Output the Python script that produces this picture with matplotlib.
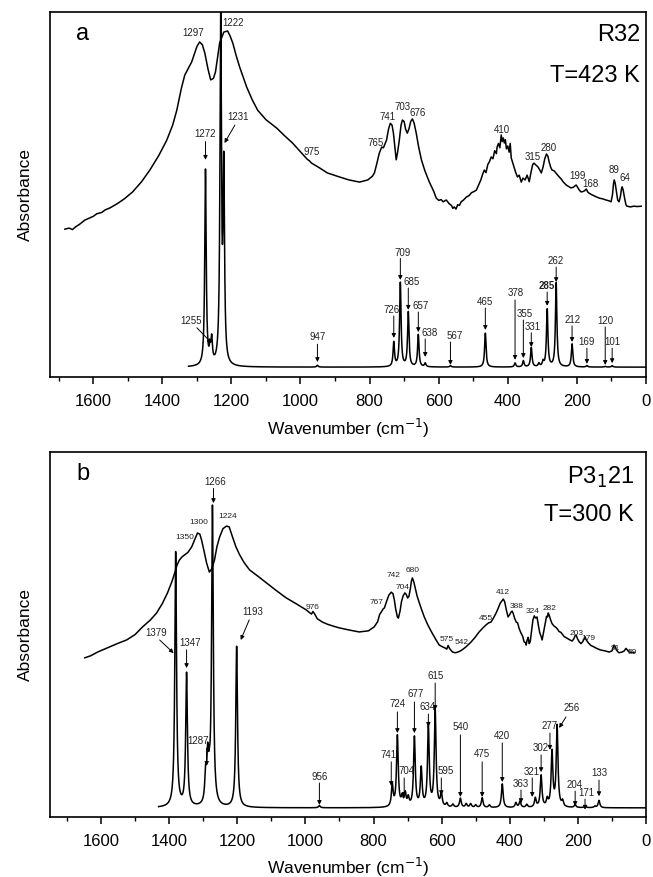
import numpy as np
import matplotlib
matplotlib.use("Agg")
import matplotlib.pyplot as plt
from matplotlib.ticker import MultipleLocator

plt.rcParams["font.family"] = ["Liberation Sans", "DejaVu Sans"]

# ── data: panel a (R32, 423 K) ───────────────────────────────────────────────
exp_a_wn = [1682, 1670, 1660, 1650, 1640, 1624, 1610, 1600, 1590, 1575, 1565, 1552,
            1530, 1510, 1486, 1460, 1436, 1410, 1387, 1370, 1358, 1345, 1335, 1315,
            1300, 1292, 1284, 1277, 1268, 1260, 1252, 1246, 1240, 1234, 1222, 1211,
            1204, 1196, 1186, 1176, 1156, 1140, 1124, 1100, 1069, 1045, 1023, 1000,
            980, 975, 968, 945, 922, 900, 887, 860, 829, 805, 792, 786, 779, 772,
            765, 760, 751, 745, 740, 735, 731, 727, 723, 719, 714, 709, 705, 700,
            696, 691, 686, 681, 676, 671, 665, 658, 650, 640, 627, 615, 607, 600,
            593, 587, 578, 570, 563, 559, 555, 550, 545, 540, 535, 528, 520, 512,
            505, 498, 491, 485, 478, 473, 468, 463, 458, 453, 448, 443, 438, 433,
            431, 427, 423, 419, 416, 413, 410, 407, 404, 400, 396, 393, 390, 386,
            382, 377, 372, 367, 361, 356, 350, 344, 338, 333, 328, 324, 318, 313,
            308, 303, 298, 293, 288, 284, 280, 276, 272, 266, 260, 251, 245, 240,
            231, 224, 217, 210, 205, 202, 198, 193, 188, 183, 178, 173, 168, 162,
            156, 145, 135, 125, 116, 108, 101, 97, 94, 92, 89, 85, 82, 78, 74, 71,
            69, 66, 62, 58, 55, 45, 35, 25, 14]
exp_a_abs = [0.405, 0.408, 0.404, 0.412, 0.418, 0.430, 0.436, 0.440, 0.447, 0.451, 0.458, 0.463,
             0.475, 0.488, 0.507, 0.535, 0.567, 0.607, 0.649, 0.690, 0.731, 0.790, 0.827, 0.863,
             0.905, 0.918, 0.910, 0.888, 0.845, 0.814, 0.818, 0.836, 0.875, 0.915, 0.945, 0.948,
             0.935, 0.915, 0.880, 0.849, 0.795, 0.760, 0.731, 0.705, 0.682, 0.660, 0.641, 0.617,
             0.596, 0.593, 0.586, 0.573, 0.559, 0.552, 0.548, 0.540, 0.534, 0.540, 0.550, 0.559, 0.585, 0.613,
             0.630, 0.628, 0.649, 0.680, 0.695, 0.690, 0.668, 0.630, 0.595, 0.615, 0.649, 0.690, 0.704, 0.700,
             0.680, 0.668, 0.680, 0.700, 0.707, 0.695, 0.668, 0.630, 0.595, 0.565, 0.534, 0.510, 0.490, 0.484,
             0.486, 0.480, 0.485, 0.475, 0.470, 0.462, 0.466, 0.460, 0.472, 0.470, 0.480, 0.485, 0.493, 0.497,
             0.505, 0.508, 0.512, 0.525, 0.540, 0.555, 0.567, 0.560, 0.582, 0.590, 0.603, 0.598, 0.620, 0.612,
             0.630, 0.640, 0.628, 0.663, 0.645, 0.655, 0.641, 0.650, 0.625, 0.633, 0.616, 0.640, 0.600, 0.588,
             0.575, 0.560, 0.548, 0.553, 0.534, 0.545, 0.540, 0.553, 0.535, 0.560, 0.582, 0.586, 0.580, 0.576,
             0.568, 0.559, 0.575, 0.598, 0.611, 0.605, 0.588, 0.575, 0.567, 0.565, 0.558, 0.548, 0.542, 0.535,
             0.526, 0.522, 0.518, 0.520, 0.524, 0.526, 0.520, 0.512, 0.507, 0.508, 0.510, 0.515, 0.506, 0.502,
             0.499, 0.494, 0.490, 0.488, 0.485, 0.483, 0.480, 0.500, 0.530, 0.540, 0.530, 0.505, 0.485, 0.480, 0.495, 0.515,
             0.521, 0.512, 0.490, 0.472, 0.468, 0.466, 0.468, 0.467, 0.468]

calc_a_pos = [1275, 1262, 1257, 1231, 1222, 951, 730, 711, 688, 659, 639, 566, 465,
              379, 355, 332, 310, 298, 286, 260, 214, 171, 118, 98]
calc_a_h = [0.564, 0.060, 0.090, 0.965, 0.550, 0.032, 0.093, 0.257, 0.176, 0.115, 0.037, 0.031, 0.120,
            0.038, 0.044, 0.080, 0.036, 0.040, 0.184, 0.257, 0.090, 0.031, 0.029, 0.031]
calc_a_base = 0.027
calc_a_range = (1324, 2)

exp_a_labels = [("1297", 1312, 0.942), ("1222", 1194, 0.970), ("975", 968, 0.616),
                ("765", 783, 0.641), ("741", 749, 0.712), ("703", 705, 0.740),
                ("676", 662, 0.723), ("410", 416, 0.677), ("315", 329, 0.603),
                ("280", 283, 0.627), ("199", 199, 0.551), ("168", 162, 0.529),
                ("89", 92, 0.567), ("64", 61, 0.545)]

# label, text x, text y, arrow from (x, y), arrow to (x, y)
calc_a_labels = [("1272", 1275, 0.666, 1275, 0.645, 1275, 0.595),
                 ("1231", 1182, 0.712, 1190, 0.690, 1220, 0.641),
                 ("1255", 1318, 0.153, 1300, 0.135, 1257, 0.093),
                 ("947", 951, 0.110, 951, 0.090, 951, 0.041),
                 ("726", 737, 0.184, 730, 0.167, 730, 0.107),
                 ("709", 705, 0.340, 711, 0.325, 711, 0.266),
                 ("685", 679, 0.260, 688, 0.244, 688, 0.184),
                 ("657", 653, 0.195, 659, 0.178, 659, 0.123),
                 ("638", 627, 0.121, 639, 0.104, 639, 0.055),
                 ("567", 555, 0.112, 566, 0.096, 566, 0.033),
                 ("465", 465, 0.205, 465, 0.189, 465, 0.129),
                 ("378", 376, 0.230, 379, 0.211, 379, 0.047),
                 ("355", 350, 0.173, 355, 0.156, 355, 0.052),
                 ("331", 329, 0.137, 332, 0.121, 332, 0.082),
                 ("285", 286, 0.249, 286, 0.233, 286, 0.195),
                 ("262", 260, 0.318, 260, 0.301, 260, 0.260),
                 ("212", 211, 0.156, 214, 0.140, 214, 0.096),
                 ("169", 171, 0.096, 171, 0.079, 171, 0.036),
                 ("120", 118, 0.153, 118, 0.137, 118, 0.033),
                 ("101", 98, 0.096, 98, 0.079, 98, 0.038)]

# ── data: panel b (P3121, 300 K) ─────────────────────────────────────────────
exp_b_wn = [1648, 1630, 1610, 1590, 1575, 1550, 1525, 1500, 1478, 1455, 1437, 1420,
            1405, 1392, 1384, 1377, 1370, 1362, 1355, 1345, 1334, 1325, 1317, 1310,
            1305, 1298, 1290, 1282, 1275, 1267, 1260, 1252, 1242, 1232, 1224, 1214,
            1204, 1193, 1180, 1164, 1140, 1114, 1085, 1056, 1025, 997, 988, 982,
            978, 974, 965, 950, 935, 915, 900, 870, 842, 815, 798, 788, 782, 777,
            772, 768, 762, 755, 748, 743, 739, 735, 730, 727, 722, 718, 713, 708,
            704, 700, 696, 692, 689, 686, 682, 677, 672, 665, 658, 651, 640, 628,
            617, 607, 597, 590, 585, 581, 577, 572, 568, 560, 552, 545, 540, 530,
            522, 514, 502, 490, 480, 470, 462, 455, 448, 440, 434, 428, 423, 419,
            415, 410, 405, 400, 396, 393, 390, 386, 381, 377, 372, 367, 362, 358,
            354, 352, 349, 346, 343, 340, 336, 332, 328, 324, 320, 316, 312, 308,
            305, 301, 296, 292, 289, 287, 284, 280, 276, 270, 265, 261, 255, 250,
            245, 240, 232, 225, 217, 212, 208, 205, 201, 196, 191, 186, 182, 179,
            176, 170, 162, 155, 147, 135, 120, 108, 100, 96, 94, 91, 87, 82, 79,
            70, 64, 59, 55, 50, 35]
exp_b_abs = [0.436, 0.442, 0.452, 0.460, 0.466, 0.476, 0.485, 0.500, 0.521, 0.540, 0.559, 0.585,
             0.614, 0.645, 0.668, 0.690, 0.704, 0.713, 0.718, 0.725, 0.740, 0.760, 0.778, 0.775,
             0.759, 0.730, 0.695, 0.671, 0.680, 0.704, 0.740, 0.767, 0.790, 0.797, 0.795, 0.767,
             0.740, 0.718, 0.697, 0.677, 0.660, 0.641, 0.620, 0.600, 0.583, 0.567, 0.560, 0.556,
             0.563, 0.558, 0.543, 0.534, 0.528, 0.522, 0.518, 0.512, 0.507, 0.510, 0.521, 0.535, 0.555, 0.562,
             0.570, 0.573, 0.590, 0.608, 0.616, 0.612, 0.595, 0.570, 0.548, 0.545, 0.565, 0.590, 0.606, 0.614,
             0.610, 0.600, 0.605, 0.625, 0.645, 0.655, 0.645, 0.625, 0.605, 0.585, 0.566, 0.548, 0.525, 0.504,
             0.486, 0.471, 0.466, 0.463, 0.460, 0.470, 0.462, 0.456, 0.452, 0.450, 0.452, 0.455, 0.458, 0.465,
             0.472, 0.479, 0.492, 0.507, 0.517, 0.526, 0.532, 0.534, 0.545, 0.559, 0.572, 0.586, 0.592, 0.597,
             0.590, 0.567, 0.548, 0.555, 0.562, 0.564, 0.558, 0.545, 0.534, 0.532, 0.515, 0.504, 0.495, 0.480,
             0.478, 0.471, 0.485, 0.492, 0.475, 0.480, 0.510, 0.540, 0.551, 0.545, 0.548, 0.525, 0.505, 0.495,
             0.485, 0.505, 0.530, 0.550, 0.548, 0.559, 0.552, 0.540, 0.530, 0.523, 0.520, 0.516, 0.508, 0.506,
             0.500, 0.494, 0.490, 0.486, 0.482, 0.488, 0.497, 0.498, 0.488, 0.480, 0.475, 0.480, 0.488, 0.494,
             0.486, 0.478, 0.470, 0.467, 0.463, 0.458, 0.455, 0.452, 0.455, 0.465, 0.471, 0.468, 0.458, 0.452, 0.450,
             0.452, 0.455, 0.462, 0.458, 0.452, 0.450]

calc_b_pos = [1381, 1349, 1293, 1287, 1282, 1273, 1202, 959, 745, 730, 716, 707, 698,
              680, 660, 639, 619, 601, 585, 567, 545, 528, 515, 500, 481, 460, 422,
              382, 370, 350, 325, 308, 290, 276, 261, 245, 208, 179, 150, 138]
calc_b_h = [0.723, 0.389, 0.100, 0.140, 0.070, 0.842, 0.466, 0.031, 0.085, 0.220, 0.050, 0.060, 0.048,
            0.216, 0.129, 0.244, 0.290, 0.060, 0.035, 0.033, 0.050, 0.035, 0.035, 0.032, 0.052, 0.032, 0.090,
            0.038, 0.042, 0.033, 0.050, 0.112, 0.045, 0.175, 0.247, 0.040, 0.033, 0.029, 0.029, 0.045]
calc_b_base = 0.025
calc_b_range = (1431, 2)

exp_b_labels = [("1350", 1355, 0.767), ("1300", 1314, 0.806), ("1224", 1229, 0.822),
                ("976", 980, 0.575), ("767", 792, 0.589), ("742", 742, 0.663),
                ("704", 716, 0.630), ("680", 686, 0.675), ("575", 584, 0.485),
                ("542", 542, 0.477), ("455", 469, 0.545), ("412", 419, 0.614),
                ("388", 381, 0.578), ("324", 334, 0.562), ("282", 284, 0.570),
                ("203", 205, 0.504), ("179", 170, 0.488), ("91", 91, 0.463),
                ("59", 41, 0.452)]

calc_b_labels = [("1266", 1264, 0.918, 1270, 0.900, 1270, 0.860),
                 ("1193", 1155, 0.562, 1165, 0.540, 1190, 0.485),
                 ("1379", 1437, 0.504, 1428, 0.485, 1387, 0.449),
                 ("1347", 1340, 0.477, 1349, 0.458, 1349, 0.408),
                 ("1287", 1314, 0.208, 1290, 0.189, 1290, 0.140),
                 ("956", 959, 0.110, 959, 0.093, 959, 0.033),
                 ("741", 757, 0.170, 748, 0.151, 748, 0.085),
                 ("724", 730, 0.310, 730, 0.288, 730, 0.230),
                 ("704", 704, 0.126, 710, 0.107, 710, 0.055),
                 ("677", 677, 0.337, 680, 0.315, 680, 0.230),
                 ("634", 642, 0.301, 639, 0.282, 639, 0.247),
                 ("615", 619, 0.386, 619, 0.367, 619, 0.293),
                 ("595", 587, 0.126, 601, 0.107, 601, 0.060),
                 ("540", 545, 0.247, 545, 0.225, 545, 0.055),
                 ("475", 481, 0.173, 481, 0.151, 481, 0.055),
                 ("420", 422, 0.222, 422, 0.203, 422, 0.096),
                 ("363", 367, 0.090, 367, 0.074, 367, 0.038),
                 ("321", 334, 0.123, 334, 0.107, 334, 0.055),
                 ("302", 308, 0.189, 308, 0.170, 308, 0.123),
                 ("277", 282, 0.249, 282, 0.230, 282, 0.184),
                 ("256", 217, 0.299, 235, 0.274, 255, 0.244),
                 ("204", 211, 0.088, 208, 0.071, 208, 0.030),
                 ("171", 176, 0.066, 179, 0.049, 179, 0.020),
                 ("133", 138, 0.121, 138, 0.101, 138, 0.057)]


def calc_curve(pos, h, base, span, gamma):
    x = np.linspace(span[0], span[1], 6000)
    y = np.full_like(x, base)
    for p, hh in zip(pos, h):
        y += (hh - base) * gamma**2 / ((x - p) ** 2 + gamma**2)
    return x, y


def panel(ax, xlim, exp_wn, exp_abs, cx, cy, exp_labels, calc_labels,
          letter, phase, temp, exp_fs, calc_fs, label_y, xlabelpad):
    ax.plot(exp_wn, exp_abs, color="black", lw=1.1)
    ax.plot(cx, cy, color="black", lw=1.1)
    for t, x, y in exp_labels:
        ax.text(x, y, t, ha="center", va="center", fontsize=exp_fs, color="#222222")
    for t, tx, ty, x0, y0, x1, y1 in calc_labels:
        w = "bold" if t == "285" else "normal"
        ax.text(tx, ty, t, ha="center", va="center", fontsize=calc_fs,
                color="#222222", fontweight=w)
        ax.annotate("", xy=(x1, y1), xytext=(x0, y0),
                    arrowprops=dict(arrowstyle="-|>", color="black", lw=0.7,
                                    mutation_scale=6, shrinkA=0, shrinkB=0))
    ax.set_xlim(*xlim)
    ax.set_ylim(0, 1)
    ax.set_yticks([])
    ax.xaxis.set_major_locator(MultipleLocator(200))
    ax.xaxis.set_minor_locator(MultipleLocator(100))
    ax.tick_params(axis="x", which="major", direction="out", length=5, width=1.1,
                   labelsize=12, pad=7)
    ax.tick_params(axis="x", which="minor", direction="out", length=3, width=1.0)
    for s in ax.spines.values():
        s.set_linewidth(1.2)
    ax.set_xlabel("Wavenumber (cm$^{-1}$)", fontsize=12.5, labelpad=xlabelpad)
    ax.set_ylabel("Absorbance", fontsize=12.5, labelpad=12)
    ax.text(0.055, 0.94, letter, transform=ax.transAxes, fontsize=17,
            ha="center", va="center")
    ax.text(label_y[0], label_y[1], phase, transform=ax.transAxes, fontsize=17,
            ha="right", va="center")
    ax.text(label_y[0], label_y[2], temp, transform=ax.transAxes, fontsize=17,
            ha="right", va="center")


fig = plt.figure(figsize=(6.53, 8.77), dpi=100)
ax_a = fig.add_axes([50 / 653, 1 - 377 / 877, 596 / 653, 365 / 877])
ax_b = fig.add_axes([50 / 653, 1 - 817 / 877, 596 / 653, 365 / 877])

xa, ya = calc_curve(calc_a_pos, calc_a_h, calc_a_base, calc_a_range, 2.5)
xb, yb = calc_curve(calc_b_pos, calc_b_h, calc_b_base, calc_b_range, 3.0)

panel(ax_a, (1725, 0), exp_a_wn, exp_a_abs, xa, ya, exp_a_labels, calc_a_labels,
      "a", "R32", "T=423 K", 7, 7, (0.99, 0.937, 0.825), 6)
panel(ax_b, (1750, 0), exp_b_wn, exp_b_abs, xb, yb, exp_b_labels, calc_b_labels,
      "b", "P3$_1$21", "T=300 K", 6, 7, (0.98, 0.930, 0.827), 5)

fig.savefig("out.png", dpi=100)
